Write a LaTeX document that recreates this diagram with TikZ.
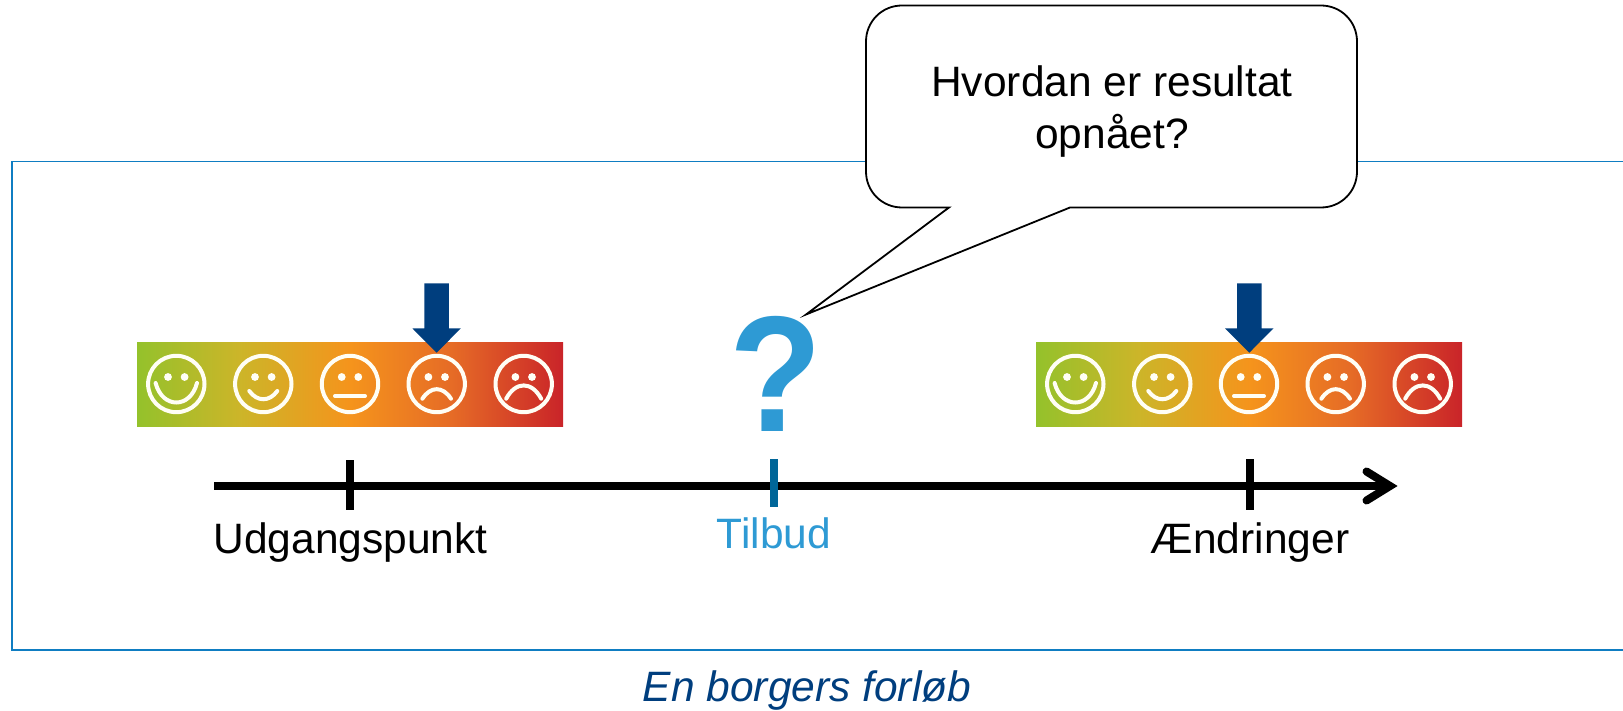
\documentclass[tikz,border=0pt]{standalone}
\usepackage{fontspec}
\setmainfont{Liberation Sans}
\definecolor{framec}{HTML}{0F7DC2}
\definecolor{navyc}{HTML}{003E7E}
\definecolor{qblue}{HTML}{2E9AD4}
\definecolor{tickblue}{HTML}{006699}
\pgfdeclarehorizontalshading{moodbar}{100bp}{
  rgb(0bp)=(0.58,0.76,0.17);
  rgb(25bp)=(0.58,0.76,0.17);
  rgb(37bp)=(0.80,0.71,0.16);
  rgb(50bp)=(0.96,0.58,0.11);
  rgb(62bp)=(0.90,0.42,0.15);
  rgb(75bp)=(0.79,0.14,0.16);
  rgb(100bp)=(0.79,0.14,0.16)}
\tikzset{
  x=1pt,y=-1pt,
  lbl/.style={inner sep=0pt,anchor=base,font=\fontsize{42.5}{48}\selectfont},
  bar/.style={rectangle,draw=none,inner sep=0pt,minimum width=426pt,minimum height=84.5pt,shading=moodbar},
  facestroke/.style={draw=white!96!yellow,line width=4pt,line cap=round},
  tick/.style={line width=8pt},
  axisline/.style={line width=8pt,draw=black},
  downarrow/.style={fill=navyc,draw=none},
  facering/.pic={
    \draw[facestroke] (0,0) circle[radius=28.2];
    \fill[white!96!yellow] (-8.3,-7) circle[radius=3.9] (8.3,-7) circle[radius=3.9];
  },
  faceA/.pic={\pic{facering};\draw[facestroke] (-20.7,-1) .. controls (-14,25) and (14,25) .. (20.7,-1);},
  faceB/.pic={\pic{facering};\draw[facestroke] (-14,7) .. controls (-6,18) and (6,18) .. (14,7);},
  faceC/.pic={\pic{facering};\draw[facestroke] (-15,12) -- (15,12);},
  faceD/.pic={\pic{facering};\draw[facestroke] (-14.3,14.7) .. controls (-6,2) and (6,2) .. (14.3,14.7);},
  faceE/.pic={\pic{facering};\draw[facestroke] (-17.5,14.7) .. controls (-8,-3) and (8,-3) .. (17.5,14.7);},
}
\begin{document}
\begin{tikzpicture}
\useasboundingbox (0,0) rectangle (1623,711);
% frame, open at the right edge
\draw[framec,line width=1.7pt] (1623,161.5) -- (12,161.5) -- (12,650) -- (1623,650);
% mood bars
\node[bar] (bar1) at (350,384.5) {};
\node[bar] (bar2) at (1249,384.5) {};
\foreach \b/\x in {1/176.3,2/1075.3}{
  \begin{scope}[shift={(\x,384)}]
    \pic at (0,0) {faceA};
    \pic at (87,0) {faceB};
    \pic at (173.7,0) {faceC};
    \pic at (260.4,0) {faceD};
    \pic at (347.4,0) {faceE};
  \end{scope}
}
% block arrows
\foreach \c in {436.6,1249.3}{
  \fill[downarrow] (\c-12.2,283.3) -- (\c+12.2,283.3) -- (\c+12.2,328.3) -- (\c+24.3,328.3)
     -- (\c,352.7) -- (\c-24.3,328.3) -- (\c-12.2,328.3) -- cycle;
}
% axis
\coordinate (axisstart) at (214,486);
\coordinate (axisend) at (1390,486);
\coordinate (barbup) at (1366.5,471.5);
\coordinate (barbdown) at (1366.5,500.5);
\draw[axisline] (axisstart) -- (axisend);
\draw[axisline,line cap=round,miter limit=10] (barbup) -- (axisend) -- (barbdown);
\coordinate (t1a) at (350,460); \coordinate (t1b) at (350,510);
\coordinate (t2a) at (774.3,459); \coordinate (t2b) at (774.3,507);
\coordinate (t3a) at (1249.5,459); \coordinate (t3b) at (1249.5,510);
\draw[tick,black] (t1a) -- (t1b);
\draw[tick,tickblue] (t2a) -- (t2b);
\draw[tick,black] (t3a) -- (t3b);
% labels
\node[lbl] (lab1) at (350.5,553) {Udgangspunkt};
\node[lbl,text=qblue] (lab2) at (774,548) {Tilbud};
\node[lbl] (lab3) at (1250,553) {Ændringer};
\node[lbl,text=qblue,font=\fontsize{165}{170}\bfseries\selectfont] (qmark) at (776,431.5) {\scalebox{.92}[1]{?}};
% callout
\fill[white,draw=black,line width=1.8pt]
  (902,5.5) -- (1321,5.5) .. controls (1341,5.5) and (1357,21.5) .. (1357,41.5)
  -- (1357,171.5) .. controls (1357,191.5) and (1341,207.5) .. (1321,207.5)
  -- (1070,207.5) -- (806,314.5) -- (949,207.5)
  -- (902,207.5) .. controls (882,207.5) and (866,191.5) .. (866,171.5)
  -- (866,41.5) .. controls (866,21.5) and (882,5.5) .. (902,5.5) -- cycle;
\node[lbl] (ask1) at (1112,97) {Hvordan er resultat};
\node[lbl] (ask2) at (1112,149) {opnået?};
% caption
\node[lbl,text=navyc,font=\fontsize{42.5}{48}\itshape\selectfont] (caption) at (807,701.5) {En borgers forløb};
\end{tikzpicture}
\end{document}
